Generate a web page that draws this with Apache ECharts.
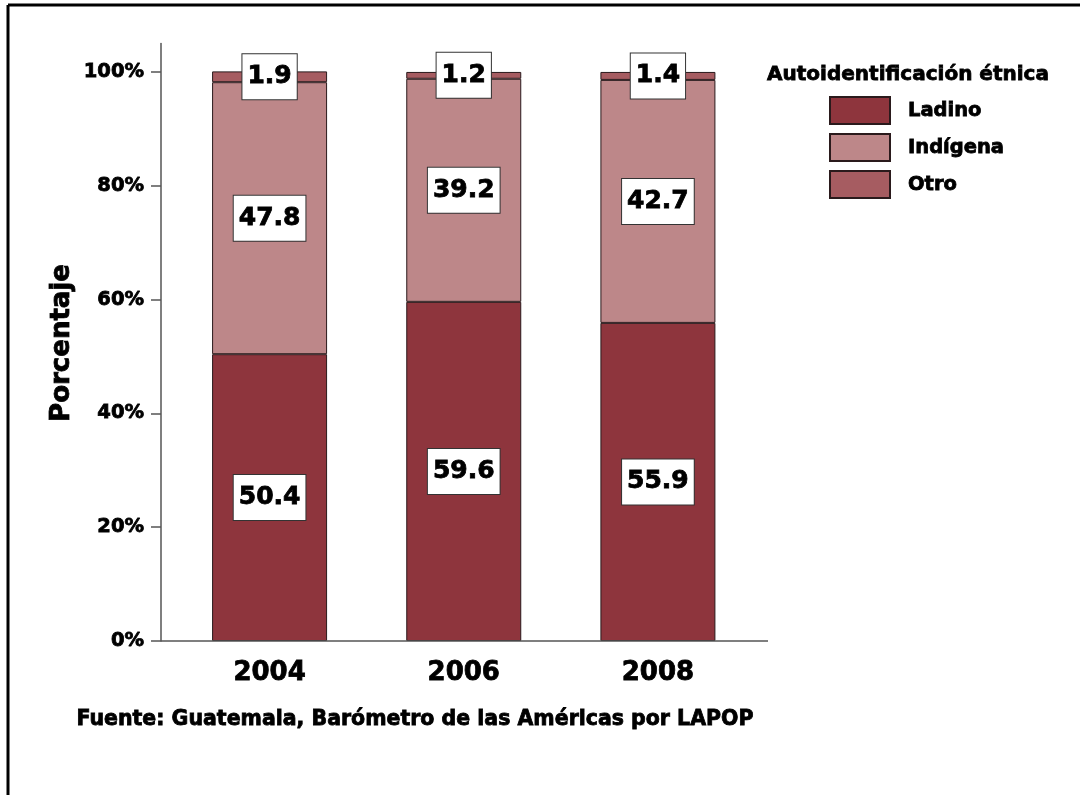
<!DOCTYPE html>
<html>
<head>
<meta charset="utf-8">
<script src="https://cdn.jsdelivr.net/npm/echarts@6/dist/echarts.min.js"></script>
<style>
  html, body { margin: 0; padding: 0; background: #fff; }
  #chart { width: 1080px; height: 795px; }
</style>
</head>
<body>
<div id="chart"></div>
<script>
// Survey years
const years = ['2004', '2006', '2008'];
// Self-identified ethnicity shares (%)
const ladino = [50.4, 59.6, 55.9];
const indigena = [47.8, 39.2, 42.7];
const otro = [1.9, 1.2, 1.4];
// Y-axis ticks
const yTicks = [0, 20, 40, 60, 80, 100];

const FONT = 'DejaVu Sans';
const colors = { ladino: '#8E353D', indigena: '#BD8789', otro: '#A65C61' };

// Heavy black text: bold face plus a thin stroke of the same colour
const heavy = { color: '#000', fontFamily: FONT, fontWeight: 'bold', textBorderColor: '#000', textBorderWidth: 0.8 };

const chart = echarts.init(document.getElementById('chart'), null, { renderer: 'canvas' });

const labelStyle = Object.assign({}, heavy, {
  show: true,
  position: 'inside',
  formatter: p => p.value.toFixed(1),
  fontSize: 25,
  lineHeight: 30,
  backgroundColor: '#fff',
  borderColor: '#333',
  borderWidth: 1,
  padding: [8, 5, 7, 5]
});

function barSeries(name, data, color) {
  return {
    name: name,
    type: 'bar',
    stack: 'total',
    barWidth: 115,
    data: data,
    itemStyle: { color: color, borderColor: '#2a1a1c', borderWidth: 1 },
    label: labelStyle,
    emphasis: { disabled: true }
  };
}

chart.setOption({
  animation: false,
  backgroundColor: '#fff',
  grid: { left: 172.5, right: 325, top: 43.5, bottom: 154 },
  legend: {
    orient: 'vertical',
    left: 824,
    top: 91,
    itemWidth: 60,
    itemHeight: 27,
    itemGap: 8,
    icon: 'rect',
    selectedMode: false,
    data: ['Ladino', 'Indígena', 'Otro'],
    textStyle: Object.assign({}, heavy, { fontSize: 19.5, padding: [0, 0, 0, 13] })
  },
  xAxis: {
    type: 'category',
    data: years,
    axisLine: { show: false },
    axisTick: { show: false },
    axisLabel: Object.assign({}, heavy, { margin: 19, fontSize: 26 })
  },
  yAxis: {
    type: 'value',
    min: 0,
    max: 105,
    interval: 20,
    offset: 11.5,
    splitLine: { show: false },
    axisLine: { show: true, lineStyle: { color: '#555', width: 1.5 } },
    axisTick: { show: true, length: 10, customValues: yTicks, lineStyle: { color: '#555', width: 1.5 } },
    axisLabel: Object.assign({}, heavy, {
      margin: 17,
      fontSize: 19.5,
      customValues: yTicks,
      formatter: v => (yTicks.indexOf(v) >= 0 ? v + '%' : '')
    })
  },
  series: [
    barSeries('Ladino', ladino, colors.ladino),
    barSeries('Indígena', indigena, colors.indigena),
    barSeries('Otro', otro, colors.otro)
  ]
});

// Baseline, frame and free-standing texts
const baseY = chart.convertToPixel({ yAxisIndex: 0 }, 0);
const textStyle = (text, size) => ({
  text: text, fontFamily: FONT, fontWeight: 'bold', fontSize: size,
  fill: '#000', stroke: '#000', lineWidth: 0.8, align: 'center', verticalAlign: 'middle'
});
chart.setOption({
  graphic: [
    { type: 'line', shape: { x1: 161, y1: baseY, x2: 768, y2: baseY },
      style: { stroke: '#555', lineWidth: 1.5 }, z: 10 },
    { type: 'line', shape: { x1: 8, y1: 5, x2: 1080, y2: 5 },
      style: { stroke: '#000', lineWidth: 3 } },
    { type: 'line', shape: { x1: 8, y1: 5, x2: 8, y2: 795 },
      style: { stroke: '#000', lineWidth: 3 } },
    { type: 'text', x: 62, y: 343, rotation: Math.PI / 2,
      style: textStyle('Porcentaje', 26) },
    { type: 'text', x: 908, y: 75,
      style: textStyle('Autoidentificación étnica', 20) },
    { type: 'text', x: 415, y: 720,
      style: textStyle('Fuente: Guatemala, Barómetro de las Américas por LAPOP', 20.5) }
  ]
});
</script>
</body>
</html>
